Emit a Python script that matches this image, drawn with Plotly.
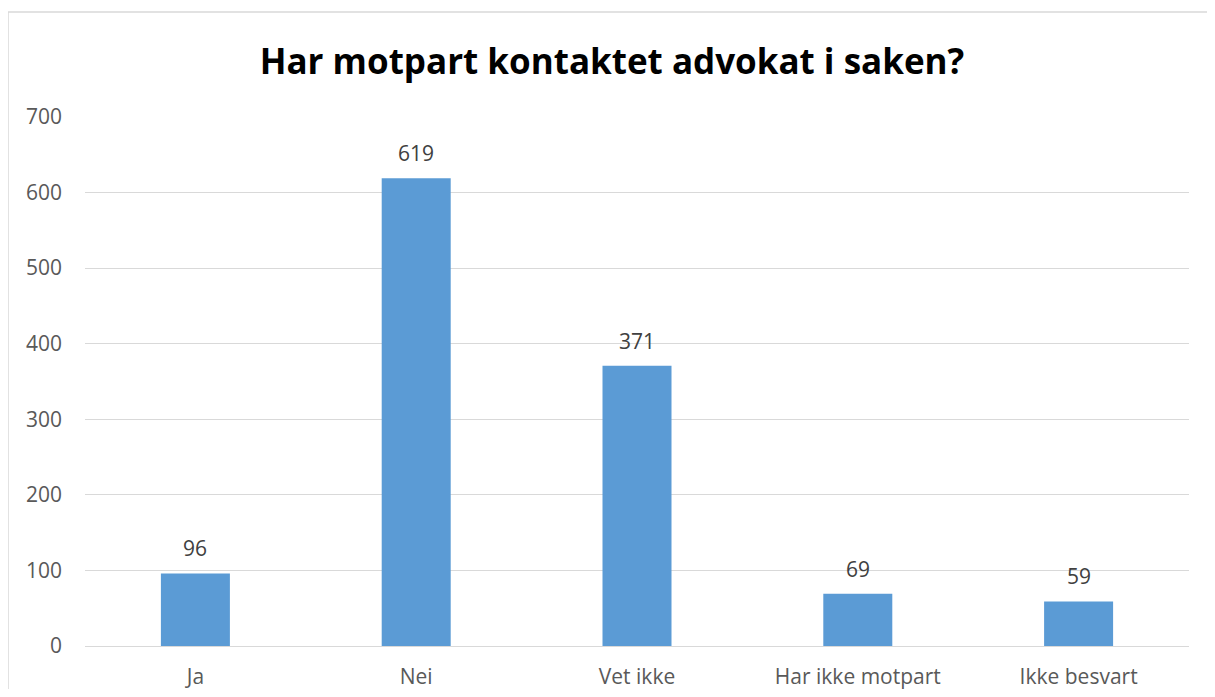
import plotly.graph_objects as go

categories = ["Ja", "Nei", "Vet ikke", "Har ikke motpart", "Ikke besvart"]
values = [96, 619, 371, 69, 59]
y_ticks = [0, 100, 200, 300, 400, 500, 600, 700]

FONT = "'Open Sans', sans-serif"
OFF = 8  # page body margin

fig = go.Figure()
fig.add_trace(go.Bar(
    x=categories, y=values,
    marker=dict(color="#5B9BD5", line=dict(width=0)),
    width=0.3125,
    hoverinfo="x+y",
))

for c, v in zip(categories, values):
    fig.add_annotation(x=c, y=v, text=str(v), showarrow=False,
                       yshift=25, font=dict(family=FONT, size=21, color="#404040"))

W, H = 1215 - 2 * OFF, 697 - 2 * OFF
PL, PT, PW, PH = 85, 117, 1104, 529  # plot area in page pixels
fig.update_layout(
    width=W, height=H,
    margin=dict(l=PL - OFF, r=W - (PL - OFF) - PW, t=PT - OFF, b=H - (PT - OFF) - PH, pad=0),
    paper_bgcolor="white", plot_bgcolor="white",
    showlegend=False,
    title=dict(text="<b>Har motpart kontaktet advokat i saken?</b>",
               x=(612 - OFF) / W, xanchor="center", y=1 - (62 - OFF) / H, yanchor="middle",
               font=dict(family=FONT, size=35, color="#000000")),
    xaxis=dict(showgrid=False, showline=True, linecolor="#D9D9D9", linewidth=1,
               ticks="", tickfont=dict(family=FONT, size=21, color="#595959"),
               ticklabelstandoff=12, range=[-0.5, 4.5], automargin=False),
    yaxis=dict(range=[0, 700], tickvals=y_ticks, showgrid=True, gridcolor="#D9D9D9",
               gridwidth=1, zeroline=False, showline=False, ticks="",
               tickfont=dict(family=FONT, size=21, color="#595959"),
               ticklabelstandoff=22, automargin=False),
    shapes=[dict(type="rect", xref="paper", yref="paper",
                 x0=(8 - PL) / PW, x1=(1240 - PL) / PW,
                 y0=(PT + PH - 720) / PH, y1=(PT + PH - 12) / PH,
                 line=dict(color="#D9D9D9", width=1.5), layer="below")],
)

fig.write_html("out.html")
